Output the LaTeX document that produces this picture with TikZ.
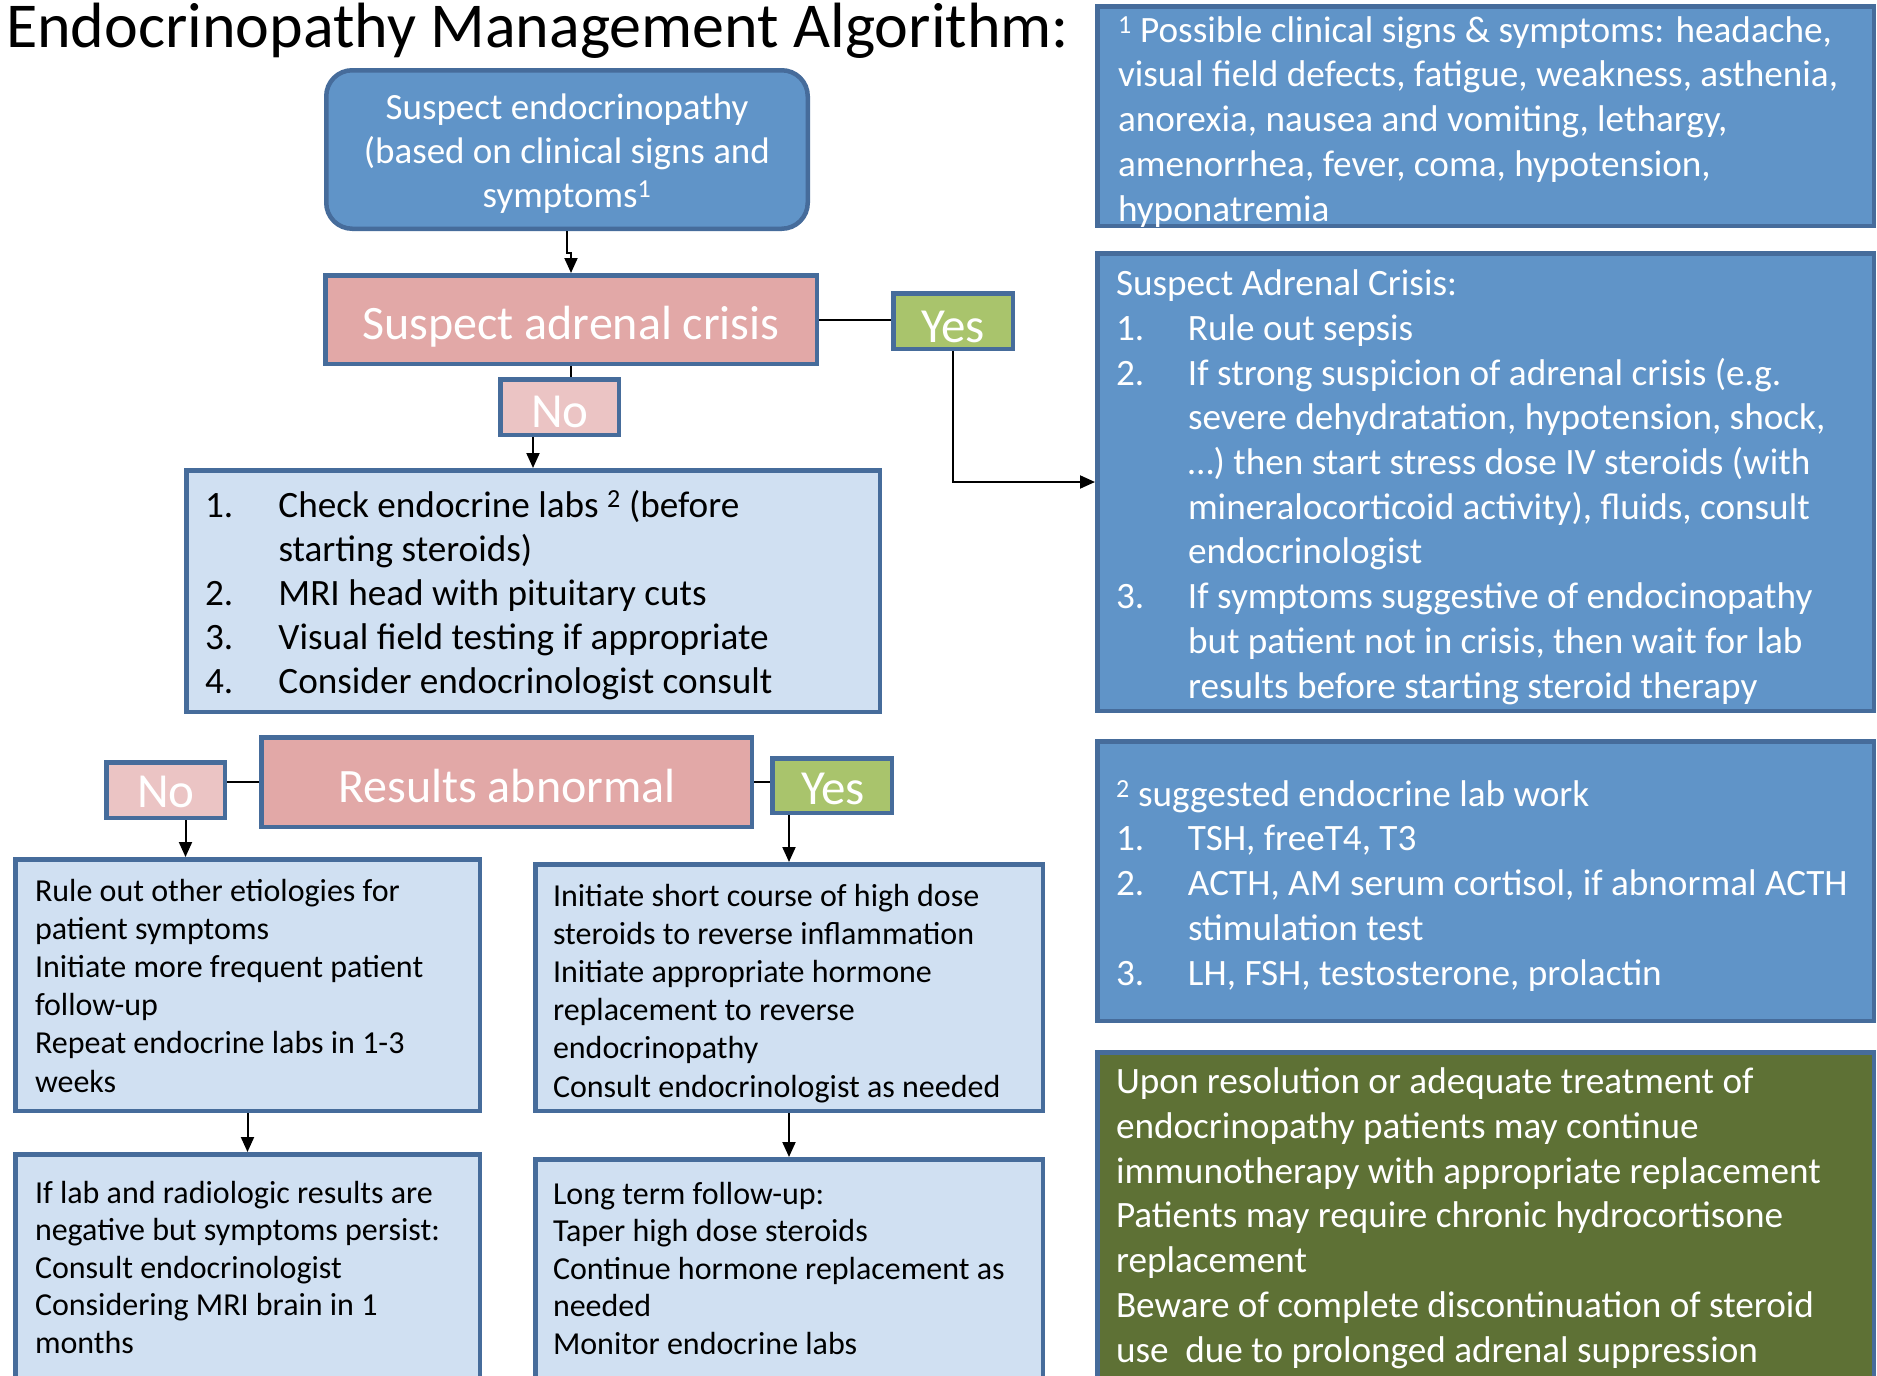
\documentclass[tikz,border=0pt]{standalone}
\usepackage{fontspec}
\setmainfont{Carlito}
\usetikzlibrary{arrows.meta,fit}

\definecolor{boxblue}{RGB}{96,148,200}
\definecolor{paleblue}{RGB}{208,224,242}
\definecolor{edgeblue}{RGB}{70,108,155}
\definecolor{rose}{RGB}{226,168,167}
\definecolor{palerose}{RGB}{235,196,196}
\definecolor{leaf}{RGB}{169,196,108}
\definecolor{olive}{RGB}{94,113,53}

% fixed-width list number, and the matching indent for continuation lines
\newcommand{\itemno}[2]{\makebox[#1][l]{#2}}
\newcommand{\hangpad}[1]{\hspace*{#1}}

\begin{document}
\begin{tikzpicture}[x=1pt,y=-1pt,
  shapebox/.style={draw=edgeblue, line width=4.5pt, inner sep=-2.25pt, outer sep=2.25pt},
  darkbox/.style={shapebox, fill=boxblue},
  lightbox/.style={shapebox, fill=paleblue},
  rosebox/.style={shapebox, fill=rose},
  tagno/.style={shapebox, fill=palerose},
  tagyes/.style={shapebox, fill=leaf},
  olivebox/.style={shapebox, fill=olive},
  % multi-line texts are placed by the baseline of their last line
  txt/.style={inner sep=0pt, outer sep=0pt, anchor=base west, align=left},
  ctxt/.style={inner sep=0pt, outer sep=0pt, anchor=base, align=center, text=white},
  bigtxt/.style={font=\fontsize{37.2}{44.7}\selectfont},
  smalltxt/.style={font=\fontsize{32}{38.2}\selectfont},
  tagtxt/.style={font=\fontsize{49}{56}\selectfont},
  link/.style={line width=2pt, draw=black},
  arr/.style={link, -{Triangle[length=15pt,width=13pt]}},
]
\useasboundingbox (0,0) rectangle (1877,1376);
\clip (0,0) rectangle (1877,1376);
\fill[white] (0,0) rectangle (1877,1376);

% title
\node[txt, font=\fontsize{64}{72}\selectfont] (title) at (6,47) {Endocrinopathy Management Algorithm:};

% ---------- main flow ----------
\node[darkbox, rounded corners=26pt, fit={(324,68)(810,231)}] (suspect) {};
\node[ctxt, font=\fontsize{37}{44}\selectfont] (suspecttxt) at (567,207)
  {Suspect endocrinopathy\\(based on clinical signs and\\symptoms\textsuperscript{1}};

\node[rosebox, fit={(323,273)(819,366)}] (crisis) {};
\node[ctxt, font=\fontsize{48}{56}\selectfont] (crisistxt) at (571,339) {Suspect adrenal crisis};

\node[tagyes, fit={(891,291)(1015,351)}] (yes1) {};
\node[ctxt, tagtxt] (yes1txt) at (953,342) {Yes};

\node[tagno, fit={(498,377)(621,437)}] (no1) {};
\node[ctxt, tagtxt] (no1txt) at (560,427) {No};

\node[lightbox, fit={(184,468)(882,714)}] (labs) {};
\node[txt, font=\fontsize{37.2}{44}\selectfont] (labstxt) at (205,693)
  {\itemno{73.5pt}{1.}Check endocrine labs \textsuperscript{2} (before\\
   \hangpad{73.5pt}starting steroids)\\
   \itemno{73.5pt}{2.}MRI head with pituitary cuts\\
   \itemno{73.5pt}{3.}Visual field testing if appropriate\\
   \itemno{73.5pt}{4.}Consider endocrinologist consult};

\node[rosebox, fit={(259,735)(754,829)}] (results) {};
\node[ctxt, font=\fontsize{48}{56}\selectfont] (resultstxt) at (507,802) {Results abnormal};

\node[tagno, fit={(104,760)(227,820)}] (no2) {};
\node[ctxt, tagtxt] (no2txt) at (166,807) {No};

\node[tagyes, fit={(770,756)(894,815)}] (yes2) {};
\node[ctxt, tagtxt] (yes2txt) at (833,804) {Yes};

\node[lightbox, fit={(13,857)(482,1113)}] (ruleout) {};
\node[txt, smalltxt] (ruleouttxt) at (35,1092)
  {Rule out other etiologies for\\patient symptoms\\Initiate more frequent patient\\follow-up\\Repeat endocrine labs in 1-3\\weeks};

\node[lightbox, fit={(533,862)(1045,1113)}] (initiate) {};
\node[txt, smalltxt] (initiatetxt) at (553,1097)
  {Initiate short course of high dose\\steroids to reverse inflammation\\Initiate appropriate hormone\\replacement to reverse\\endocrinopathy\\Consult endocrinologist as needed};

\node[lightbox, fit={(13,1152)(482,1420)}] (iflab) {};
\node[txt, font=\fontsize{32}{37.5}\selectfont] (iflabtxt) at (35,1353)
  {If lab and radiologic results are\\negative but symptoms persist:\\Consult endocrinologist\\Considering MRI brain in 1\\months};

\node[lightbox, fit={(533,1157)(1045,1420)}] (longterm) {};
\node[txt, font=\fontsize{32}{37.5}\selectfont] (longtermtxt) at (553,1354)
  {Long term follow-up:\\Taper high dose steroids\\Continue hormone replacement as\\needed\\Monitor endocrine labs};

% ---------- side notes ----------
\node[darkbox, fit={(1095,4)(1876,228)}] (signs) {};
\node[txt, bigtxt, text=white] (signstxt) at (1118,221)
  {\textsuperscript{1} Possible clinical signs \& symptoms: headache,\\
   visual field defects, fatigue, weakness, asthenia,\\
   anorexia, nausea and vomiting, lethargy,\\
   amenorrhea, fever, coma, hypotension,\\
   hyponatremia};

\node[darkbox, fit={(1095,251)(1876,713)}] (adrenal) {};
\node[txt, bigtxt, text=white] (adrenaltxt) at (1116,698)
  {Suspect Adrenal Crisis:\\
   \itemno{72pt}{1.}Rule out sepsis\\
   \itemno{72pt}{2.}If strong suspicion of adrenal crisis (e.g.\\
   \hangpad{72pt}severe dehydratation, hypotension, shock,\\
   \hangpad{72pt}…) then start stress dose IV steroids (with\\
   \hangpad{72pt}mineralocorticoid activity), fluids, consult\\
   \hangpad{72pt}endocrinologist\\
   \itemno{72pt}{3.}If symptoms suggestive of endocinopathy\\
   \hangpad{72pt}but patient not in crisis, then wait for lab\\
   \hangpad{72pt}results before starting steroid therapy};

\node[darkbox, fit={(1095,739)(1876,1023)}] (labwork) {};
\node[txt, bigtxt, text=white] (labworktxt) at (1116,985)
  {\textsuperscript{2} suggested endocrine lab work\\
   \itemno{72pt}{1.}TSH, freeT4, T3\\
   \itemno{72pt}{2.}ACTH, AM serum cortisol, if abnormal ACTH\\
   \hangpad{72pt}stimulation test\\
   \itemno{72pt}{3.}LH, FSH, testosterone, prolactin};

\node[olivebox, fit={(1095,1050)(1876,1420)}] (resume) {};
\node[txt, bigtxt, text=white] (resumetxt) at (1116,1362)
  {Upon resolution or adequate treatment of\\
   endocrinopathy patients may continue\\
   immunotherapy with appropriate replacement\\
   Patients may require chronic hydrocortisone\\
   replacement\\
   Beware of complete discontinuation of steroid\\
   use\ \ due to prolonged adrenal suppression};

% ---------- connectors ----------
\draw[arr] (suspect.south) -- ++(0,22) -| (crisis.north);
\draw[link] (crisis.east) -- (crisis.east -| yes1.west);
\draw[arr] (yes1.south) |- (adrenal.west);
\draw[link] (crisis.south) -- (crisis.south |- no1.north);
\draw[arr] (no1.south -| labs.north) -- (labs.north);
\draw[link] (results.west) -- (results.west -| no2.east);
\draw[link] (results.east) -- (results.east -| yes2.west);
\draw[arr] ([xshift=20pt]no2.south) -- ([xshift=20pt]no2.south |- ruleout.north);
\draw[arr] (yes2.south -| initiate.north) -- (initiate.north);
\draw[arr] (ruleout.south) -- (iflab.north);
\draw[arr] (initiate.south) -- (longterm.north);
\end{tikzpicture}
\end{document}
